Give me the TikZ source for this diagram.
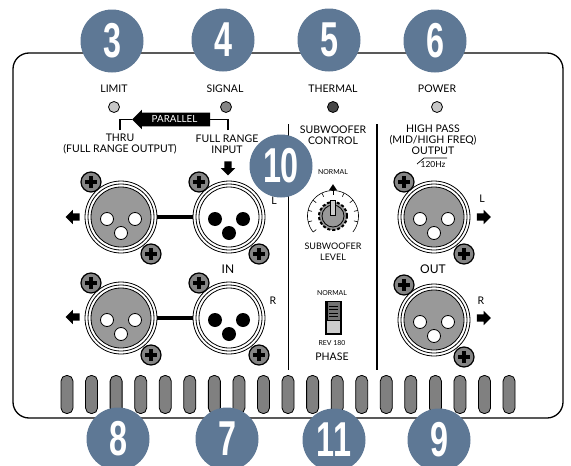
\documentclass[tikz,border=0pt]{standalone}
\usepackage{fontspec}
\setmainfont{Lato}
\newfontfamily\badgefont[FakeStretch=0.66]{Liberation Sans}
\usetikzlibrary{shapes.arrows,shapes.geometric,calc}
\definecolor{badgeblue}{HTML}{5E7895}
\tikzset{
  panel/.style={draw,line width=1.3pt,rounded corners=16pt,minimum width=550pt,minimum height=365pt,inner sep=0pt},
  badge/.style={circle,fill=badgeblue,text=white,minimum size=63pt,inner sep=0pt,font=\badgefont\fontsize{49}{49}\selectfont\bfseries},
  lbl/.style={font=\fontsize{10.5}{11}\selectfont,align=center,inner sep=0pt},
  biglbl/.style={font=\fontsize{12}{12}\selectfont,align=center,inner sep=0pt},
  tiny/.style={font=\fontsize{6.9}{9}\selectfont,align=center,inner sep=0pt},
  led/.style={circle,draw,line width=0.8pt,minimum size=11pt,inner sep=0pt},
  vent/.style={draw,line width=0.8pt,fill=black!50,rounded corners=5.5pt,minimum width=12pt,minimum height=38pt,inner sep=0pt},
  ring/.style={circle,draw,line width=0.8pt,fill=white,inner sep=0pt},
  pin/.style={circle,fill=black,minimum size=14pt,inner sep=0pt},
  hole/.style={circle,draw,line width=0.8pt,fill=white,minimum size=13pt,inner sep=0pt},
  screwhead/.style={circle,draw,line width=1.2pt,fill=black!48,minimum size=20pt,inner sep=0pt},
  bar/.style={line width=3.2pt},
  divider/.style={line width=1.7pt},
  bracket/.style={line width=1.5pt},
  blockarrow/.style={single arrow,fill=black,inner xsep=0pt,inner ysep=3.5pt,minimum height=14pt,single arrow head extend=3.5pt,single arrow head indent=0pt},
  parallelarrow/.style={single arrow,fill=black,text=white,shape border rotate=180,inner xsep=0pt,inner ysep=2pt,minimum height=78pt,
    single arrow head extend=3pt,single arrow head indent=0pt,text height=7.5pt,text depth=2pt,font=\fontsize{9.8}{10}\selectfont},
  screw/.pic={
    \node[screwhead] (-head) at (0,0) {};
    \draw[line width=3.4pt] (-6,0) -- (6,0) (0,-6) -- (0,6);
  },
  xlr/.pic={
    \node[ring,minimum size=72pt] (-outer) at (0,0) {};
    \node[ring,minimum size=66pt] at (0,0) {};
    \node[ring,minimum size=60pt,fill=#1] (-face) at (0,0) {};
    \pic (-sa) at (-30,-35) {screw};
    \pic (-sb) at (30,37) {screw};
  },
}
\begin{document}
\begin{tikzpicture}[x=1pt,y=-1pt]
  \useasboundingbox (0,0) rectangle (571,466);
  % ---- chassis and vents ----
  \node[panel] (chassis) at (288,235.5) {};
  \foreach \k in {0,...,18} {
    \node[vent] (vent\k) at ({67+24.56*\k},394.5) {};
  }
  % ---- leds ----
  \node[lbl] (limit) at (114,89) {LIMIT};
  \node[lbl] (signal) at (225,89) {SIGNAL};
  \node[lbl] (thermal) at (333,89) {THERMAL};
  \node[lbl] (power) at (437,89) {POWER};
  \node[led,fill=black!22] (ledLimit) at (114,107) {};
  \node[led,fill=black!48] (ledSignal) at (226,107) {};
  \node[led,fill=black!72] (ledThermal) at (333,107) {};
  \node[led,fill=black!22] (ledPower) at (437,107) {};
  % ---- input side ----
  \node[parallelarrow] (parallel) at (174.5,119.5) {PARALLEL};
  \coordinate (thruEnd) at (120,130);
  \coordinate (inputEnd) at (228,130);
  \node[lbl] (thru) at (120,144.5) {THRU\\(FULL RANGE OUTPUT)};
  \node[lbl] (fullrange) at (227,144.5) {FULL RANGE\\INPUT};
  \node[blockarrow,rotate=-90] (arrowIn) at (228,166.5) {};
  \pic (outL) at (121,217) {xlr={black!40}};
  \pic (inL) at (229,217) {xlr=white};
  \pic (outR) at (121,318) {xlr={black!40}};
  \pic (inR) at (229,318) {xlr=white};
  \foreach \c in {outL,outR} {
    \node[hole] at ($(\c-face)+(-14,2)$) {};
    \node[hole] at ($(\c-face)+(14,2)$) {};
    \node[hole] at ($(\c-face)+(0,16)$) {};
  }
  \foreach \c in {inL,inR} {
    \node[pin] at ($(\c-face)+(-14,2)$) {};
    \node[pin] at ($(\c-face)+(14,2)$) {};
    \node[pin] at ($(\c-face)+(0,16)$) {};
  }
  \node[blockarrow,rotate=180] (arrowOutL) at (74.5,217) {};
  \node[blockarrow,rotate=180] (arrowOutR) at (74.5,317) {};
  \node[biglbl] (inLabel) at (228,269) {IN};
  \node[lbl] (lIn) at (274,201) {L};
  \node[lbl] (rIn) at (273,301) {R};
  % ---- subwoofer column ----
  \node[lbl] (subctl) at (333,135) {SUBWOOFER\\CONTROL};
  \node[tiny] (normalA) at (333,172) {NORMAL};
  \node[fill=black,isosceles triangle,isosceles triangle stretches,shape border rotate=90,inner sep=0pt,minimum width=8pt,minimum height=6pt] (mark) at (333,188) {};
  \coordinate (knob) at (333,216);
  \draw[line width=0.6pt,shift={(knob)}] plot[domain=141:399,samples=50] ({25.5*cos(\x)},{25.5*sin(\x)});
  \foreach \a in {141,166.8,...,399} {
    \draw[line width=0.6pt] ($(knob)+(\a:25.5)$) -- ($(knob)+(\a:21.5)$);
  }
  \node[circle,draw,line width=2pt,densely dashed,fill=black!40,minimum size=28pt,inner sep=0pt] (knobRim) at (knob) {};
  \node[circle,draw,line width=0.8pt,fill=black!40,minimum size=22pt,inner sep=0pt] (knobCap) at (knob) {};
  \node[draw,line width=0.8pt,fill=black!20,minimum width=5pt,minimum height=15pt,inner sep=0pt] (pointer) at (333,207.5) {};
  \node[lbl,font=\fontsize{9}{11}\selectfont] (sublevel) at (333,252) {SUBWOOFER\\LEVEL};
  \node[tiny] (normalB) at (332,293) {NORMAL};
  \node[draw,line width=1.5pt,fill=black!20,minimum width=15pt,minimum height=32pt,inner sep=0pt] (switch) at (333.5,318) {};
  \node[draw,line width=0.6pt,fill=black!55,minimum width=13pt,minimum height=19pt,inner sep=0pt,anchor=north] (slider) at (switch.north) {};
  \foreach \s in {306,309.5,313,316.5} {
    \draw[line width=0.8pt] (329,\s) -- (338,\s);
  }
  \node[tiny] (rev) at (332,343) {REV 180};
  \node[lbl] (phase) at (332,357) {PHASE};
  % ---- output side ----
  \node[lbl] (highpass) at (433,140) {HIGH PASS\\(MID/HIGH FREQ)\\OUTPUT};
  \draw[line width=0.7pt] (417,164) -- (424,158) -- (447,158);
  \node[tiny,font=\fontsize{8.4}{9}\selectfont] (hz) at (433,164) {120Hz};
  \pic (hpL) at (434,217) {xlr={black!40}};
  \pic (hpR) at (434,320) {xlr={black!40}};
  \foreach \c in {hpL,hpR} {
    \node[hole] at ($(\c-face)+(-14,2)$) {};
    \node[hole] at ($(\c-face)+(14,2)$) {};
    \node[hole] at ($(\c-face)+(0,16)$) {};
  }
  \node[blockarrow] (arrowHpL) at (482,217) {};
  \node[blockarrow] (arrowHpR) at (482,318) {};
  \node[biglbl] (outLabel) at (433,269) {OUT};
  \node[lbl] (lOut) at (482,199) {L};
  \node[lbl] (rOut) at (481,301) {R};
  % ---- dividers ----
  \coordinate (divAtop) at (288.5,124);
  \coordinate (divAbot) at (288.5,370);
  \coordinate (divBtop) at (377,124);
  \coordinate (divBbot) at (377,370);
  % ---- edges ----
  \draw[bracket] (thruEnd) |- (parallel.tip);
  \draw[bracket] (inputEnd) |- (parallel.tail);
  \draw[bar] (outL-outer) -- (inL-outer);
  \draw[bar] (outR-outer) -- (inR-outer);
  \draw[divider] (divAtop) -- (divAbot);
  \draw[divider] (divBtop) -- (divBbot);
  % ---- callouts ----
  \node[badge] (n3) at (112,41) {3};
  \node[badge] (n4) at (223,40) {4};
  \node[badge] (n5) at (329,40) {5};
  \node[badge] (n6) at (435,41) {6};
  \node[badge] (n10) at (281,166) {10};
  \node[badge] (n8) at (118,439) {8};
  \node[badge] (n7) at (227,439) {7};
  \node[badge] (n11) at (334,440) {11};
  \node[badge] (n9) at (439,440) {9};
\end{tikzpicture}
\end{document}
